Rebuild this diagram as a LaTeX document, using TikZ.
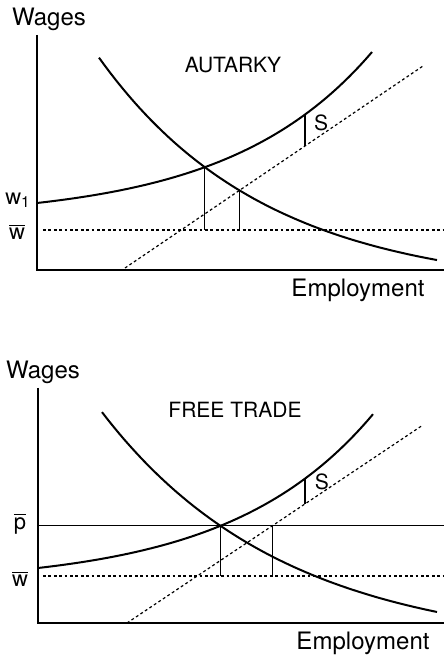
\documentclass[tikz,border=0pt]{standalone}
\usepackage{fontspec}
\setmainfont{TeX Gyre Heros}
\usetikzlibrary{intersections}

\tikzset{
    axis/.style={line width=1.1pt},
    curve/.style={line width=1pt},
    shifted/.style={line width=0.6pt, dash pattern=on 1.4pt off 1.3pt},
    drop/.style={line width=0.6pt},
    title/.style={font=\fontsize{10.5}{12}\selectfont},
    axlabel/.style={font=\fontsize{12}{14}\selectfont},
    level/.style={font=\fontsize{11}{13}\selectfont}
}

\begin{document}
\begin{tikzpicture}[x=5pt, y=5pt]
    \useasboundingbox (0,0) rectangle (44.4,65.9);

    % Autarky panel
    \draw[axis] (3.7,62.4) -- (3.7,38.9) -- (44.4,38.9);
    \node[axlabel] (wagesA) at (4.9,64.0) {Wages};
    \node[axlabel] (emplA) at (35.8,36.9) {Employment};
    \node[title] (autarky) at (23.3,59.4) {AUTARKY};

    \draw[curve, name path=supA] plot[domain=3.7:37.2, samples=60]
        (\x, {44.0+1.6*exp(0.07*(\x-3.7))});
    \draw[curve, name path=demA] plot[domain=9.9:43.7, samples=60]
        (\x, {36.83+42.2*exp(-0.06*\x)});
    \draw[shifted, name path=dashA] (12.5,39.1) -- (42.3,59.3);
    \coordinate (wA) at (4.3,42.9);
    \draw[shifted] (wA) -- (44.4,42.9);

    \node[level] (w1) at (1.8,45.9) {w\textsubscript{1}};
    \node[level] (wbarA) at (1.7,42.7) {$\overline{\mbox{w}}$};

    \path[name intersections={of=supA and demA, by=eqA}];
    \path[name intersections={of=demA and dashA, by=mA}];
    \draw[drop] (eqA) -- (eqA |- wA);
    \draw[drop] (mA) -- (mA |- wA);

    \path[name path=gapA] (30.5,45) -- (30.5,62);
    \path[name intersections={of=gapA and supA, by=sTopA}];
    \path[name intersections={of=gapA and dashA, by=sBotA}];
    \draw[drop] (sTopA) -- (sBotA);
    \node[title] (sA) at (32.1,53.6) {S};

    % Free trade panel
    \coordinate (oB) at (3.8,3.6);
    \coordinate (endB) at (44.4,3.6);
    \draw[axis] (3.8,27.1) -- (oB) -- (endB);
    \node[axlabel] (wagesB) at (4.3,28.7) {Wages};
    \node[axlabel] (emplB) at (36.3,1.6) {Employment};
    \node[title] (freetrade) at (23.5,24.9) {FREE TRADE};

    \draw[curve, name path=supB] plot[domain=3.8:37.3, samples=60]
        (\x, {7.47+1.63*exp(0.07*(\x-3.8))});
    \draw[curve, name path=demB] plot[domain=10.2:43.7, samples=60]
        (\x, {0.94+41.6*exp(-0.055*\x)});
    \draw[shifted, name path=dashB] (12.7,3.6) -- (42.3,23.4);
    \path[name intersections={of=supB and demB, by=eqB}];
    \draw[drop, name path=pbar] (oB |- eqB) -- (endB |- eqB);
    \coordinate (wB) at (4.3,8.3);
    \draw[shifted] (wB) -- (44.4,8.3);

    \node[level] (pbarB) at (2.0,13.5) {$\overline{\mbox{p}}$};
    \node[level] (wbarB) at (2.0,8.0) {$\overline{\mbox{w}}$};

    \path[name intersections={of=pbar and dashB, by=tB}];
    \draw[drop] (eqB) -- (eqB |- wB);
    \draw[drop] (tB) -- (tB |- wB);

    \path[name path=gapB] (30.5,12) -- (30.5,26);
    \path[name intersections={of=gapB and supB, by=sTopB}];
    \path[name intersections={of=gapB and dashB, by=sBotB}];
    \draw[drop] (sTopB) -- (sBotB);
    \node[title] (sB) at (32.2,17.7) {S};
\end{tikzpicture}
\end{document}
